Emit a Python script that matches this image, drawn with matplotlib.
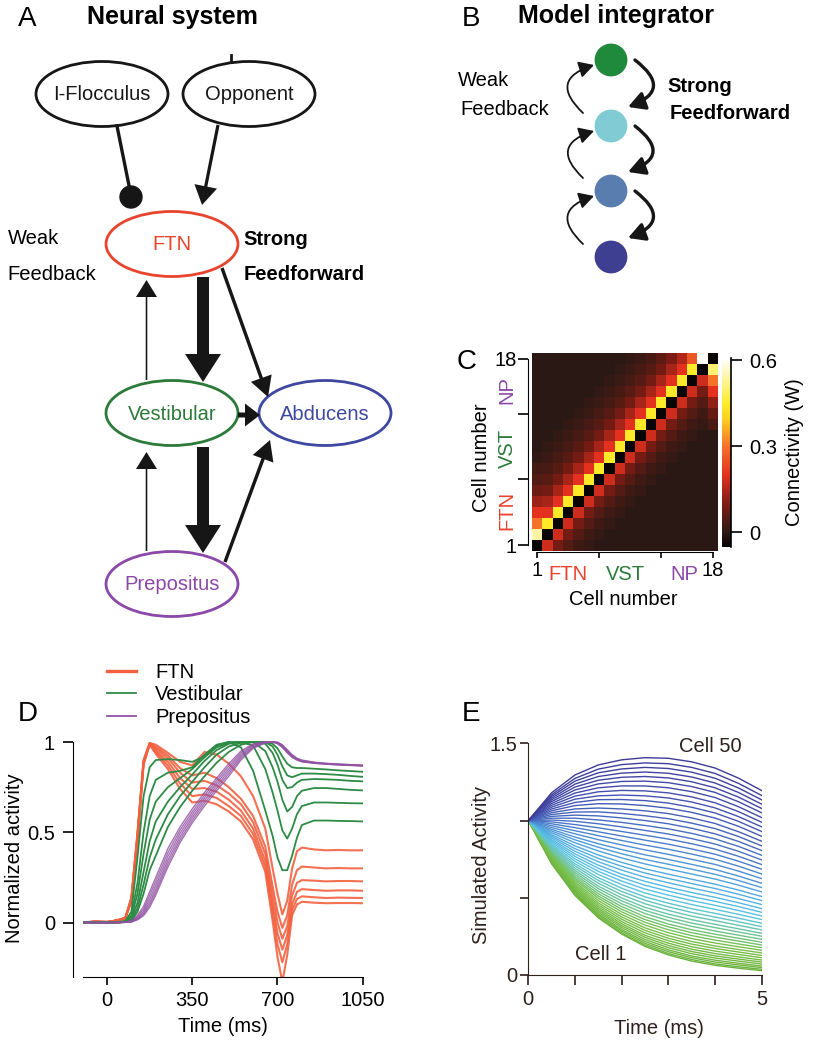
import numpy as np
import matplotlib
matplotlib.use("Agg")
import matplotlib.pyplot as plt
from matplotlib.patches import Ellipse, Circle, FancyArrow, FancyArrowPatch
from matplotlib.colors import LinearSegmentedColormap
from matplotlib.lines import Line2D

plt.rcParams['font.family'] = ['Liberation Sans', 'DejaVu Sans']
plt.rcParams['font.size'] = 14

# ---------------- data ----------------
# C: connectivity, values along each diagonal (row - col)
n_cells = 18
self_w = -0.045
ff_diag = [0.44, 0.2, 0.14, 0.09, 0.055, 0.035, 0.02, 0.01]   # row = col + 1 .. + 8
fb_diag = [0.18, 0.09, 0.05, 0.025, 0.012]                    # row = col - 1 .. - 5
first_col = [-0.045, 0.54, 0.3, 0.2, 0.13, 0.08, 0.05, 0.03]  # col 1, rows 1..8
last_col = [-0.045, 0.5, 0.3, 0.2, 0.12, 0.07, 0.04]         # col 18, rows 18 down
last_row = [0.6, 0.26, 0.15, 0.1, 0.06]                        # row 18, cols 17 down
c_ticks = [1, 7, 13, 18]
groups = ['FTN', 'VST', 'NP']

# D: normalized activity (ms)
d_time = [-100, -50, 0, 25, 50, 75, 100, 125, 150, 175, 200, 250, 300, 350, 400, 450,
          500, 550, 600, 650, 680, 700, 720, 740, 760, 780, 800, 850, 900, 950, 1000, 1050]
ftn_act = [
    [0, 0.005, 0.003, 0.008, 0.015, 0.025, 0.14, 0.5, 0.9, 0.995, 0.985, 0.94, 0.89, 0.87, 0.945, 0.93,
     0.88, 0.81, 0.7, 0.52, 0.3, 0.16, 0.045, 0.12, 0.3, 0.395, 0.415, 0.405, 0.4, 0.402, 0.4, 0.4],
    [0, 0.005, 0.003, 0.008, 0.015, 0.025, 0.135, 0.49, 0.895, 0.993, 0.975, 0.925, 0.855, 0.815, 0.83, 0.8,
     0.75, 0.685, 0.59, 0.42, 0.2, 0.06, -0.03, 0.04, 0.21, 0.29, 0.31, 0.305, 0.3, 0.302, 0.3, 0.3],
    [0, 0.005, 0.003, 0.008, 0.015, 0.025, 0.13, 0.48, 0.89, 0.991, 0.965, 0.91, 0.83, 0.775, 0.785, 0.76,
     0.715, 0.655, 0.555, 0.38, 0.15, 0.0, -0.09, -0.02, 0.15, 0.22, 0.235, 0.232, 0.228, 0.23, 0.23, 0.228],
    [0, 0.005, 0.003, 0.008, 0.015, 0.025, 0.125, 0.47, 0.885, 0.989, 0.955, 0.89, 0.8, 0.74, 0.745, 0.725,
     0.68, 0.62, 0.52, 0.34, 0.1, -0.06, -0.15, -0.07, 0.1, 0.17, 0.185, 0.18, 0.176, 0.178, 0.178, 0.176],
    [0, 0.005, 0.003, 0.008, 0.015, 0.025, 0.12, 0.46, 0.88, 0.987, 0.945, 0.87, 0.77, 0.7, 0.71, 0.69,
     0.645, 0.59, 0.49, 0.31, 0.06, -0.12, -0.22, -0.12, 0.07, 0.13, 0.145, 0.14, 0.136, 0.138, 0.137, 0.136],
    [0, 0.005, 0.003, 0.008, 0.015, 0.025, 0.115, 0.45, 0.875, 0.985, 0.935, 0.85, 0.74, 0.665, 0.675, 0.655,
     0.615, 0.56, 0.46, 0.28, 0.01, -0.19, -0.33, -0.18, 0.04, 0.1, 0.115, 0.11, 0.107, 0.108, 0.108, 0.107],
]
vst_act = [
    [0, 0, 0, 0, 0.003, 0.01, 0.06, 0.36, 0.7, 0.86, 0.9, 0.905, 0.9, 0.89, 0.92, 0.98,
     1.0, 0.97, 0.84, 0.62, 0.48, 0.36, 0.29, 0.29, 0.37, 0.47, 0.54, 0.565, 0.565, 0.563, 0.562, 0.56],
    [0, 0, 0, 0, 0.002, 0.008, 0.04, 0.22, 0.5, 0.7, 0.79, 0.83, 0.84, 0.86, 0.93, 0.985,
     1.0, 1.0, 0.98, 0.85, 0.72, 0.62, 0.51, 0.465, 0.52, 0.6, 0.645, 0.665, 0.665, 0.663, 0.661, 0.66],
    [0, 0, 0, 0, 0.002, 0.006, 0.03, 0.16, 0.38, 0.57, 0.67, 0.75, 0.8, 0.85, 0.915, 0.97,
     0.995, 1.0, 1.0, 0.95, 0.86, 0.78, 0.68, 0.615, 0.64, 0.7, 0.73, 0.745, 0.745, 0.74, 0.735, 0.732],
    [0, 0, 0, 0, 0.001, 0.005, 0.02, 0.11, 0.28, 0.45, 0.56, 0.67, 0.75, 0.82, 0.895, 0.955,
     0.99, 1.0, 1.0, 0.99, 0.94, 0.875, 0.79, 0.745, 0.75, 0.775, 0.79, 0.795, 0.793, 0.79, 0.785, 0.782],
    [0, 0, 0, 0, 0.001, 0.004, 0.015, 0.08, 0.21, 0.36, 0.46, 0.6, 0.7, 0.78, 0.86, 0.93,
     0.975, 0.995, 1.0, 1.0, 0.975, 0.93, 0.865, 0.815, 0.805, 0.815, 0.825, 0.825, 0.822, 0.818, 0.812, 0.807],
    [0, 0, 0, 0, 0.001, 0.003, 0.01, 0.06, 0.16, 0.29, 0.37, 0.53, 0.64, 0.73, 0.81, 0.885,
     0.945, 0.985, 1.0, 1.0, 0.99, 0.965, 0.92, 0.88, 0.86, 0.856, 0.856, 0.852, 0.848, 0.843, 0.839, 0.835],
]
np_act = [
    [0, 0, 0, 0, 0, 0.003, 0.01, 0.04, 0.09, 0.17, 0.25, 0.41, 0.53, 0.63, 0.72, 0.8,
     0.88, 0.95, 0.99, 1.0, 1.0, 0.99, 0.97, 0.94, 0.915, 0.9, 0.89, 0.882, 0.877, 0.873, 0.87, 0.867],
    [0, 0, 0, 0, 0, 0.002, 0.008, 0.033, 0.075, 0.15, 0.228, 0.388, 0.512, 0.613, 0.705, 0.786,
     0.866, 0.94, 0.985, 1.0, 1.0, 0.993, 0.973, 0.943, 0.918, 0.902, 0.892, 0.883, 0.878, 0.874, 0.871, 0.868],
    [0, 0, 0, 0, 0, 0.002, 0.006, 0.027, 0.063, 0.13, 0.206, 0.366, 0.494, 0.597, 0.69, 0.772,
     0.852, 0.93, 0.98, 1.0, 1.0, 0.995, 0.976, 0.946, 0.921, 0.904, 0.894, 0.884, 0.879, 0.875, 0.872, 0.869],
    [0, 0, 0, 0, 0, 0.001, 0.005, 0.022, 0.053, 0.112, 0.186, 0.345, 0.476, 0.582, 0.675, 0.758,
     0.838, 0.92, 0.975, 0.998, 1.0, 0.997, 0.979, 0.95, 0.924, 0.906, 0.896, 0.886, 0.88, 0.876, 0.873, 0.87],
    [0, 0, 0, 0, 0, 0.001, 0.004, 0.018, 0.045, 0.097, 0.168, 0.326, 0.459, 0.567, 0.66, 0.744,
     0.824, 0.91, 0.97, 0.997, 1.0, 0.998, 0.982, 0.954, 0.927, 0.908, 0.898, 0.887, 0.881, 0.877, 0.874, 0.871],
    [0, 0, 0, 0, 0, 0.001, 0.003, 0.015, 0.038, 0.084, 0.152, 0.308, 0.443, 0.552, 0.645, 0.73,
     0.81, 0.9, 0.965, 0.995, 1.0, 0.999, 0.985, 0.958, 0.93, 0.91, 0.9, 0.888, 0.882, 0.878, 0.875, 0.872],
]

# E: simulated activity of cells 1..50 at each sample time
sim_time = [0, 0.5, 1, 1.5, 2, 2.5, 3, 3.5, 4, 4.5, 5]
act_t0 = [1.0] * 50
act_t05 = [0.720, 0.723, 0.728, 0.732, 0.737, 0.742, 0.747, 0.753, 0.759, 0.765,
           0.772, 0.779, 0.786, 0.792, 0.800, 0.808, 0.815, 0.824, 0.832, 0.841,
           0.850, 0.860, 0.869, 0.878, 0.889, 0.899, 0.909, 0.921, 0.932, 0.943,
           0.955, 0.967, 0.979, 0.991, 1.003, 1.015, 1.027, 1.039, 1.051, 1.063,
           1.075, 1.087, 1.099, 1.111, 1.123, 1.134, 1.145, 1.156, 1.167, 1.180]
act_t1 = [0.515, 0.521, 0.528, 0.535, 0.544, 0.553, 0.561, 0.571, 0.581, 0.592,
          0.603, 0.615, 0.626, 0.638, 0.651, 0.664, 0.677, 0.691, 0.706, 0.720,
          0.736, 0.752, 0.768, 0.784, 0.801, 0.818, 0.836, 0.856, 0.875, 0.893,
          0.914, 0.934, 0.954, 0.974, 0.995, 1.015, 1.035, 1.055, 1.075, 1.097,
          1.117, 1.138, 1.158, 1.178, 1.198, 1.217, 1.236, 1.255, 1.273, 1.295]
act_t15 = [0.370, 0.377, 0.387, 0.396, 0.407, 0.418, 0.429, 0.441, 0.454, 0.467,
           0.482, 0.497, 0.511, 0.526, 0.542, 0.559, 0.575, 0.594, 0.612, 0.630,
           0.651, 0.671, 0.691, 0.711, 0.733, 0.755, 0.777, 0.803, 0.827, 0.850,
           0.876, 0.902, 0.927, 0.953, 0.979, 1.004, 1.030, 1.056, 1.081, 1.109,
           1.135, 1.160, 1.186, 1.212, 1.237, 1.261, 1.285, 1.309, 1.333, 1.360]
act_t2 = [0.265, 0.273, 0.284, 0.294, 0.307, 0.319, 0.332, 0.346, 0.361, 0.376,
          0.392, 0.409, 0.426, 0.443, 0.461, 0.480, 0.499, 0.520, 0.541, 0.562,
          0.585, 0.608, 0.631, 0.653, 0.679, 0.704, 0.729, 0.758, 0.785, 0.812,
          0.842, 0.871, 0.900, 0.929, 0.959, 0.988, 1.017, 1.046, 1.075, 1.107,
          1.136, 1.165, 1.195, 1.224, 1.253, 1.280, 1.307, 1.334, 1.362, 1.393]
act_t25 = [0.185, 0.194, 0.205, 0.217, 0.230, 0.244, 0.257, 0.273, 0.289, 0.305,
           0.323, 0.341, 0.359, 0.377, 0.398, 0.418, 0.438, 0.461, 0.484, 0.506,
           0.531, 0.556, 0.581, 0.606, 0.633, 0.660, 0.687, 0.719, 0.748, 0.778,
           0.810, 0.841, 0.873, 0.905, 0.936, 0.968, 1.000, 1.031, 1.063, 1.097,
           1.129, 1.160, 1.192, 1.224, 1.255, 1.285, 1.314, 1.344, 1.373, 1.407]
act_t3 = [0.130, 0.139, 0.151, 0.163, 0.177, 0.191, 0.206, 0.222, 0.238, 0.255,
          0.274, 0.293, 0.312, 0.330, 0.352, 0.373, 0.394, 0.418, 0.441, 0.465,
          0.491, 0.517, 0.543, 0.568, 0.597, 0.625, 0.653, 0.686, 0.717, 0.748,
          0.781, 0.814, 0.847, 0.880, 0.913, 0.946, 0.979, 1.012, 1.045, 1.080,
          1.113, 1.146, 1.179, 1.212, 1.245, 1.276, 1.306, 1.337, 1.368, 1.403]
act_t35 = [0.090, 0.100, 0.112, 0.123, 0.138, 0.152, 0.167, 0.183, 0.200, 0.217,
           0.236, 0.255, 0.274, 0.293, 0.315, 0.336, 0.358, 0.381, 0.405, 0.429,
           0.456, 0.482, 0.508, 0.534, 0.563, 0.592, 0.620, 0.654, 0.685, 0.716,
           0.749, 0.783, 0.816, 0.850, 0.883, 0.917, 0.950, 0.983, 1.017, 1.053,
           1.086, 1.120, 1.153, 1.187, 1.220, 1.251, 1.282, 1.313, 1.344, 1.380]
act_t4 = [0.063, 0.072, 0.084, 0.096, 0.110, 0.124, 0.139, 0.155, 0.172, 0.188,
          0.207, 0.226, 0.245, 0.264, 0.285, 0.307, 0.328, 0.352, 0.375, 0.399,
          0.425, 0.451, 0.477, 0.503, 0.531, 0.560, 0.588, 0.621, 0.652, 0.683,
          0.716, 0.749, 0.782, 0.815, 0.848, 0.881, 0.914, 0.948, 0.981, 1.016,
          1.049, 1.082, 1.115, 1.149, 1.182, 1.212, 1.243, 1.274, 1.305, 1.340]
act_t45 = [0.044, 0.053, 0.065, 0.076, 0.090, 0.103, 0.117, 0.133, 0.149, 0.165,
           0.183, 0.201, 0.220, 0.238, 0.258, 0.279, 0.299, 0.322, 0.345, 0.368,
           0.393, 0.418, 0.443, 0.468, 0.495, 0.523, 0.550, 0.582, 0.612, 0.641,
           0.673, 0.705, 0.737, 0.769, 0.801, 0.833, 0.865, 0.897, 0.928, 0.963,
           0.995, 1.026, 1.058, 1.090, 1.122, 1.152, 1.182, 1.211, 1.241, 1.275]
act_t5 = [0.028, 0.037, 0.048, 0.058, 0.071, 0.084, 0.097, 0.112, 0.127, 0.143,
          0.160, 0.177, 0.194, 0.212, 0.231, 0.251, 0.270, 0.292, 0.313, 0.335,
          0.359, 0.382, 0.406, 0.430, 0.456, 0.482, 0.508, 0.538, 0.566, 0.594,
          0.624, 0.654, 0.685, 0.715, 0.745, 0.775, 0.806, 0.836, 0.866, 0.898,
          0.929, 0.959, 0.989, 1.019, 1.050, 1.078, 1.106, 1.134, 1.162, 1.194]

# ---------------- figure ----------------
W_PX, H_PX = 818, 1046
fig = plt.figure(figsize=(W_PX / 100, H_PX / 100), dpi=100)
ink = '#161616'
red, green, blue, purple = '#e8442c', '#2c7a3a', '#3f48a0', '#8c48a8'


def px_rect(x0, y0, x1, y1):
    # pixel box (y from top) -> figure fractions
    return [x0 / W_PX, 1 - y1 / H_PX, (x1 - x0) / W_PX, (y1 - y0) / H_PX]


# overlay in pixel coordinates for the two diagrams and panel letters
ax0 = fig.add_axes([0, 0, 1, 1])
ax0.set_xlim(0, W_PX)
ax0.set_ylim(H_PX, 0)
ax0.axis('off')

for letter, x, y in [('A', 18, 26), ('B', 462, 26), ('C', 457, 369), ('D', 18, 721), ('E', 462, 721)]:
    ax0.text(x, y, letter, fontsize=20, va='baseline')
ax0.text(87, 24, 'Neural system', fontsize=18, fontweight='bold', va='baseline')
ax0.text(518, 23, 'Model integrator', fontsize=18, fontweight='bold', va='baseline')

# ---- A: neural system diagram
a_nodes = ['I-Flocculus', 'Opponent', 'FTN', 'Vestibular', 'Abducens', 'Prepositus']
a_xy = [(102, 94), (249, 94), (172, 244), (172, 413), (325, 413), (172, 584)]
a_col = [ink, ink, red, green, blue, purple]
for name, (x, y), c in zip(a_nodes, a_xy, a_col):
    ax0.add_patch(Ellipse((x, y), 132, 65, fill=False, ec=c, lw=2.0))
    ax0.text(x, y + 1, name, color=c, ha='center', va='center', fontsize=14.5)

ax0.plot([230.5, 230.5], [55, 62], color=ink, lw=2)
ax0.plot([117, 129.5], [126, 188], color=ink, lw=2.4)
ax0.add_patch(Circle((131, 197), 11, color=ink))

# x0, y0, x1, y1, shaft, head width, head length
a_arrows = [
    (218, 125, 202, 205, 3.2, 23, 19),
    (203, 277, 203, 382, 12, 36, 28),
    (203, 447, 203, 553, 12, 36, 28),
    (146.5, 551, 146.5, 452, 1.6, 21, 17),
    (146.5, 380, 146.5, 280, 1.6, 21, 17),
    (222, 268, 268, 397, 3.4, 22, 20),
    (238, 415, 260, 415, 5, 23, 15),
    (225, 562, 270, 440, 3.4, 22, 20),
]
for x0, y0, x1, y1, w, hw, hl in a_arrows:
    ax0.add_patch(FancyArrow(x0, y0, x1 - x0, y1 - y0, width=w, head_width=hw,
                             head_length=hl, length_includes_head=True, color=ink, lw=0))

ax0.text(8, 244, 'Weak', fontsize=14.5, va='baseline')
ax0.text(7, 280, 'Feedback', fontsize=14.5, va='baseline')
ax0.text(243, 245, 'Strong', fontsize=14.5, fontweight='bold', va='baseline')
ax0.text(244, 280, 'Feedforward', fontsize=14.5, fontweight='bold', va='baseline')

# ---- B: model integrator chain
b_y = [60, 126, 191, 257]
b_col = ['#1f8a3c', '#80cbd4', '#5a7db0', '#3f3f92']
for y, c in zip(b_y, b_col):
    ax0.add_patch(Circle((611, y), 15.7, color=c))
for k in range(3):
    ax0.add_patch(FancyArrowPatch((583, b_y[k + 1] - 13), (594, b_y[k] + 5),
                                  connectionstyle='arc3,rad=-0.85',
                                  arrowstyle='-|>,head_length=9,head_width=5',
                                  mutation_scale=1, lw=1.3, color=ink, shrinkA=0, shrinkB=0))
    ax0.add_patch(FancyArrowPatch((635, b_y[k]), (628, b_y[k + 1] - 19),
                                  connectionstyle='arc3,rad=-0.9',
                                  arrowstyle='-|>,head_length=10,head_width=5.5',
                                  mutation_scale=1, lw=2.4, color=ink, shrinkA=0, shrinkB=0))
ax0.text(458, 86, 'Weak', fontsize=14.5, va='baseline')
ax0.text(460, 115, 'Feedback', fontsize=14.5, va='baseline')
ax0.text(667, 92, 'Strong', fontsize=14.5, fontweight='bold', va='baseline')
ax0.text(670, 119, 'Feedforward', fontsize=14.5, fontweight='bold', va='baseline')

# ---- C: connectivity matrix
W = np.zeros((n_cells, n_cells))
np.fill_diagonal(W, self_w)
for k, v in enumerate(ff_diag, start=1):
    W += np.diag(np.full(n_cells - k, v), -k)
for k, v in enumerate(fb_diag, start=1):
    W += np.diag(np.full(n_cells - k, v), k)
W[:len(first_col), 0] = first_col
W[n_cells - 1 - np.arange(len(last_col)), n_cells - 1] = last_col
W[n_cells - 1, n_cells - 2 - np.arange(len(last_row))] = last_row

cmap_c = LinearSegmentedColormap.from_list('conn', [
    (0.0, '#050303'), (0.077, '#2c1915'), (0.23, '#7e1d14'), (0.38, '#e3301f'),
    (0.53, '#f4702a'), (0.685, '#fcd321'), (0.76, '#ffec2c'), (0.9, '#fff5a8'), (1.0, '#ffffff')])

ax_c = fig.add_axes(px_rect(531.7, 353.3, 717.7, 550.7))
im = ax_c.imshow(W, origin='lower', cmap=cmap_c, vmin=-0.051, vmax=0.607,
                 aspect='auto', interpolation='nearest')
for s in ['top', 'right']:
    ax_c.spines[s].set_visible(False)
ax_c.spines['left'].set_position(('outward', 2.5))
ax_c.spines['bottom'].set_position(('outward', 1))
ax_c.spines['left'].set_bounds(0, n_cells - 1)
ax_c.spines['bottom'].set_bounds(0, n_cells - 1)
tick_pos = [t - 1 for t in c_ticks]
tick_lab = ['1', '', '', '18']
ax_c.set_xticks(tick_pos, tick_lab)
ax_c.set_yticks(tick_pos, tick_lab)
ax_c.tick_params(axis='y', length=7, width=1.2, pad=1, labelsize=14.5)
ax_c.tick_params(axis='x', length=4.5, width=1.2, pad=2, labelsize=14.5)
ax_c.set_xlabel('Cell number', fontsize=14.5)
ax_c.xaxis.set_label_coords(0.49, -0.2)
ax_c.set_ylabel('Cell number', fontsize=14.5)
ax_c.yaxis.set_label_coords(-0.22, 0.47)
for g, x, c in zip(groups, [568, 625, 684], [red, green, purple]):
    ax0.text(x, 575, g, color=c, ha='center', va='center', fontsize=14.5)
for g, y, c in zip(groups, [510, 448, 390], [red, green, purple]):
    ax0.text(507, y, g, color=c, ha='center', va='center', fontsize=14.5, rotation=90)

cax = fig.add_axes(px_rect(721.7, 358, 730.7, 547))
cb = fig.colorbar(im, cax=cax, ticks=[0, 0.3, 0.6])
cb.outline.set_visible(False)
cax.spines['right'].set_visible(True)
cax.spines['right'].set_linewidth(1.2)
cb.set_ticklabels(['0', '0.3', '0.6'])
cax.tick_params(length=8, width=1.2, pad=5, labelsize=14.5)
cb.set_label('Connectivity (W)', fontsize=14.5, labelpad=6)

# ---- D: normalized activity
ftn_c, vst_c, np_c = '#f2603f', '#2e8b45', '#9252a2'
ax_d = fig.add_axes(px_rect(82.7, 740.2, 362.7, 976.7))
for row in ftn_act:
    ax_d.plot(d_time, row, color=ftn_c, lw=1.5, alpha=0.9)
for row in vst_act:
    ax_d.plot(d_time, row, color=vst_c, lw=1.3)
for row in np_act:
    ax_d.plot(d_time, row, color=np_c, lw=1.0, alpha=0.8)
ax_d.set_xlim(-100, 1050)
ax_d.set_ylim(-0.3, 1.01)
for s in ['top', 'right']:
    ax_d.spines[s].set_visible(False)
ax_d.spines['left'].set_position(('outward', 7))
ax_d.spines['left'].set_bounds(-0.3, 1)
ax_d.set_xticks([0, 350, 700, 1050], ['0', '350', '700', '1050'])
ax_d.set_yticks([0, 0.5, 1], ['0', '0.5', '1'])
ax_d.tick_params(axis='y', length=7, width=1.2, pad=6, labelsize=14.5)
ax_d.tick_params(axis='x', length=6, width=1.2, pad=4, labelsize=14.5)
ax_d.set_xlabel('Time (ms)', fontsize=14.5)
ax_d.xaxis.set_label_coords(0.5, -0.17)
ax_d.set_ylabel('Normalized activity', fontsize=14.5)
ax_d.yaxis.set_label_coords(-0.21, 0.5)
handles = [Line2D([], [], color=ftn_c, lw=2.4), Line2D([], [], color=vst_c, lw=1.3),
           Line2D([], [], color=np_c, lw=1.3)]
ax_d.legend(handles, ['FTN', 'Vestibular', 'Prepositus'], loc='upper left',
            bbox_to_anchor=(107 / W_PX, 1 - 663 / H_PX), bbox_transform=fig.transFigure,
            frameon=False, borderpad=0, borderaxespad=0, handlelength=1.44,
            handletextpad=0.94, labelspacing=0.17, fontsize=14.5)

# ---- E: simulated activity
brown = '#2e201c'
sim = np.array([act_t0, act_t05, act_t1, act_t15, act_t2, act_t25, act_t3,
                act_t35, act_t4, act_t45, act_t5])
cmap_e = LinearSegmentedColormap.from_list('cells', [
    (0.0, '#6cb23e'), (0.2, '#78c04a'), (0.32, '#6cc4a0'), (0.42, '#5ac4e4'),
    (0.55, '#4ea4de'), (0.68, '#4a74c6'), (0.85, '#4450ae'), (1.0, '#3d3c98')])
ax_e = fig.add_axes(px_rect(528.3, 743.3, 761.7, 975))
n_sim = sim.shape[1]
for i in range(n_sim):
    ax_e.plot(sim_time, sim[:, i], color=cmap_e(i / (n_sim - 1)), lw=1.0)
ax_e.set_xlim(0, 5)
ax_e.set_ylim(0, 1.5)
for s in ['top', 'right']:
    ax_e.spines[s].set_visible(False)
for s in ['left', 'bottom']:
    ax_e.spines[s].set_color(brown)
ax_e.set_xticks([0, 1, 2, 3, 4, 5], ['0', '', '', '', '', '5'])
ax_e.set_yticks([0, 0.5, 1, 1.5], ['0', '', '', '1.5'])
ax_e.tick_params(axis='y', length=6, width=1.2, pad=2, labelsize=14.5, colors=brown)
ax_e.tick_params(axis='x', length=7, width=1.2, pad=4, labelsize=14.5, colors=brown)
ax_e.set_xlabel('Time (ms)', fontsize=14.5, color=brown)
ax_e.xaxis.set_label_coords(0.56, -0.19)
ax_e.set_ylabel('Simulated Activity', fontsize=14.5, color=brown)
ax_e.yaxis.set_label_coords(-0.16, 0.475)
ax_e.text(3.89, 1.477, 'Cell 50', ha='center', va='center', fontsize=14.5, color=brown)
ax_e.text(1.56, 0.13, 'Cell 1', ha='center', va='center', fontsize=14.5, color=brown)

fig.savefig('out.png', dpi=100)
